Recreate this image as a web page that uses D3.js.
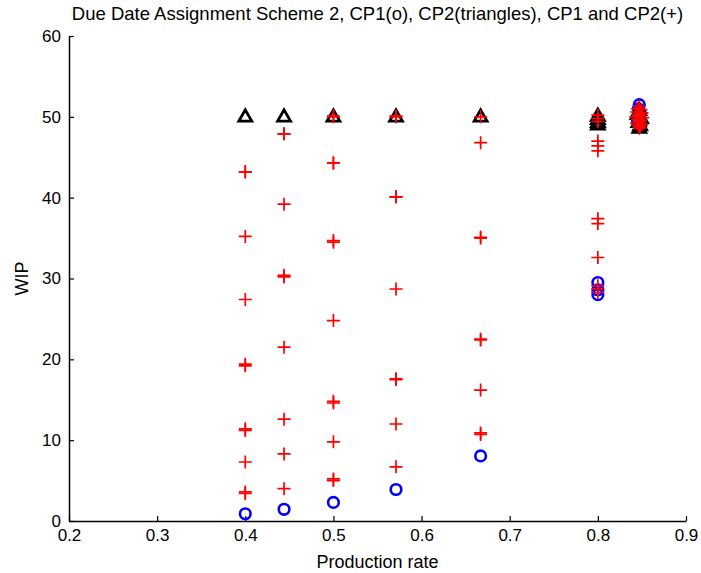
<!DOCTYPE html>
<html>
<head>
<meta charset="utf-8">
<script src="https://cdn.jsdelivr.net/npm/d3@7/dist/d3.min.js"></script>
<style>
  body { margin: 0; background: #fff; }
  svg { display: block; }
  text { font-family: "Liberation Sans", Arial, Helvetica, sans-serif; fill: #000; }
</style>
</head>
<body>
<script>
// CP1 results (circles)
const cp1X = [0.4, 0.444, 0.5, 0.571, 0.667,
  0.8, 0.8, 0.8,
  0.847, 0.846, 0.848, 0.847, 0.845, 0.849];
const cp1Y = [0.9, 1.45, 2.3, 3.9, 8.05,
  29.5, 28.6, 28.0,
  51.5, 51.0, 50.5, 50.0, 49.5, 49.0];

// CP2 results (triangles)
const cp2X = [0.4, 0.444, 0.5, 0.571, 0.667,
  0.8, 0.8, 0.8, 0.8,
  0.847, 0.845, 0.849, 0.846, 0.848, 0.847];
const cp2Y = [50, 50, 50, 50, 50,
  50.1, 49.7, 49.3, 49.0,
  50.8, 50.3, 49.8, 49.3, 48.9, 48.6];

// CP1 and CP2 combined (+)
const bothX = [
  0.4, 0.4, 0.4, 0.4, 0.4, 0.4, 0.4, 0.4, 0.4, 0.4, 0.4,
  0.444, 0.444, 0.444, 0.444, 0.444, 0.444, 0.444, 0.444, 0.444,
  0.5, 0.5, 0.5, 0.5, 0.5, 0.5, 0.5, 0.5, 0.5, 0.5, 0.5, 0.5,
  0.571, 0.571, 0.571, 0.571, 0.571, 0.571, 0.571, 0.571, 0.571,
  0.667, 0.667, 0.667, 0.667, 0.667, 0.667, 0.667, 0.667, 0.667,
  0.8, 0.8, 0.8, 0.8, 0.8, 0.8, 0.8, 0.8, 0.8, 0.8, 0.8, 0.8,
  0.847, 0.845, 0.849, 0.844, 0.850, 0.846, 0.848, 0.843, 0.851, 0.845,
  0.849, 0.847, 0.844, 0.850, 0.846, 0.848, 0.847
];
const bothY = [
  3.4, 3.6, 7.3, 11.2, 11.4, 19.2, 19.4, 27.4, 35.2, 43.2, 43.2,
  4.0, 8.3, 12.6, 21.5, 30.2, 30.4, 39.2, 47.9, 47.9,
  5.0, 5.2, 9.8, 14.6, 14.8, 24.8, 34.5, 34.7, 44.3, 44.3, 50.0, 50.1,
  6.7, 12.0, 17.5, 17.6, 28.7, 40.1, 40.1, 50.0, 50.1,
  10.7, 10.9, 16.2, 22.4, 22.5, 35.0, 35.1, 46.8, 50.0,
  28.3, 28.7, 29.1, 32.6, 36.8, 37.4, 45.8, 46.4, 47.0, 49.4, 49.8, 50.2,
  51.3, 51.0, 50.9, 50.6, 50.5, 50.3, 50.2, 50.0, 49.9, 49.7,
  49.6, 49.4, 49.2, 49.1, 48.9, 48.8, 48.6
];

// Axis ticks and labels
const xTicks = [0.2, 0.3, 0.4, 0.5, 0.6, 0.7, 0.8, 0.9];
const yTicks = [0, 10, 20, 30, 40, 50, 60];
const titleText = "Due Date Assignment Scheme 2, CP1(o), CP2(triangles), CP1 and CP2(+)";
const xLabel = "Production rate";
const yLabel = "WIP";

const W = 701, H = 573;
const margin = { left: 69, right: 15, top: 36, bottom: 52 };

const svg = d3.select("body").append("svg")
  .attr("width", W).attr("height", H);

const x = d3.scaleLinear().domain([0.2, 0.9]).range([margin.left, W - margin.right]);
const y = d3.scaleLinear().domain([0, 60]).range([H - margin.bottom, margin.top]);

// Axes: ticks point inward, MATLAB style
const xAxis = d3.axisBottom(x).tickValues(xTicks).tickSizeInner(-5).tickSizeOuter(0)
  .tickPadding(8).tickFormat(d3.format(".1f"));
const yAxis = d3.axisLeft(y).tickValues(yTicks).tickSizeInner(-5).tickSizeOuter(0)
  .tickPadding(8).tickFormat(d3.format("d"));

const gx = svg.append("g").attr("transform", `translate(0,${y(0)})`).call(xAxis);
const gy = svg.append("g").attr("transform", `translate(${x(0.2)},0)`).call(yAxis);
[gx, gy].forEach(g => {
  g.select(".domain").attr("stroke", "#000").attr("stroke-width", 1.5);
  g.selectAll(".tick line").attr("stroke", "#000").attr("stroke-width", 1.2);
  g.selectAll(".tick text").style("font-size", "17px").attr("fill", "#000");
});

const plot = svg.append("g");

// circles
plot.selectAll("circle.cp1").data(d3.range(cp1X.length)).join("circle")
  .attr("class", "cp1")
  .attr("cx", i => x(cp1X[i])).attr("cy", i => y(cp1Y[i]))
  .attr("r", 5.3)
  .attr("fill", "none").attr("stroke", "#0000ff").attr("stroke-width", 2.6);

// triangles
const tri = d3.symbol().type(d3.symbolTriangle).size(72);
plot.selectAll("path.cp2").data(d3.range(cp2X.length)).join("path")
  .attr("class", "cp2")
  .attr("transform", i => `translate(${x(cp2X[i])},${y(cp2Y[i]) + 0.5})`)
  .attr("d", tri)
  .attr("fill", "none").attr("stroke", "#000").attr("stroke-width", 2.8)
  .attr("stroke-linejoin", "miter");

// plus markers
const half = 6.5;
plot.selectAll("path.both").data(d3.range(bothX.length)).join("path")
  .attr("class", "both")
  .attr("d", i => {
    const cx = x(bothX[i]), cy = y(bothY[i]);
    return `M${cx - half},${cy}H${cx + half}M${cx},${cy - half}V${cy + half}`;
  })
  .attr("fill", "none").attr("stroke", "#ff0000").attr("stroke-width", 1.7);

// title and axis labels
svg.append("text")
  .attr("x", (x(0.2) + x(0.9)) / 2).attr("y", 20)
  .attr("text-anchor", "middle").style("font-size", "18.5px")
  .text(titleText);

svg.append("text")
  .attr("x", (x(0.2) + x(0.9)) / 2).attr("y", 568)
  .attr("text-anchor", "middle").style("font-size", "18px")
  .text(xLabel);

svg.append("text")
  .attr("transform", `translate(28,${(y(0) + y(60)) / 2}) rotate(-90)`)
  .attr("text-anchor", "middle").style("font-size", "18px")
  .text(yLabel);
</script>
</body>
</html>
